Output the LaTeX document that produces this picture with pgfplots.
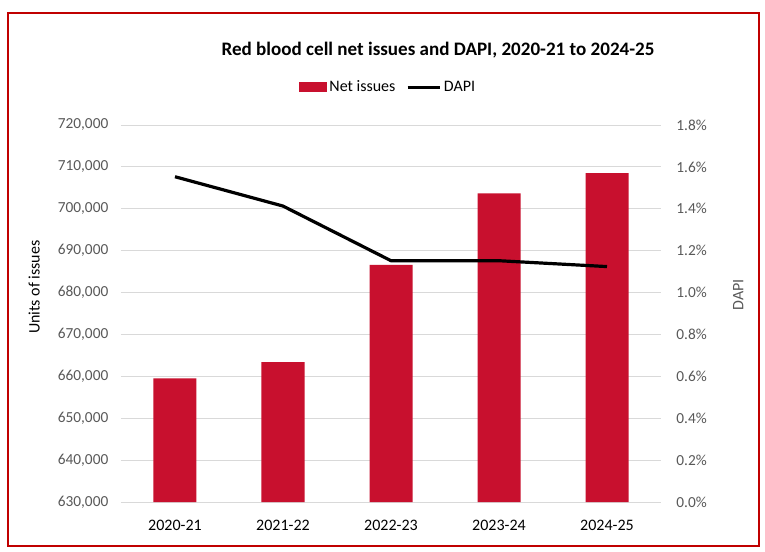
\documentclass[border=0pt]{standalone}
\usepackage{pgfplots}
\pgfplotsset{compat=1.18}
\usepackage{fontspec}
\setmainfont{Carlito}
\definecolor{barred}{HTML}{C8102E}
\definecolor{framered}{HTML}{C00000}
\definecolor{tickgray}{HTML}{595959}
\definecolor{gridgray}{HTML}{D9D9D9}
\begin{document}
\begin{tikzpicture}
\useasboundingbox (0pt,0pt) rectangle (573.75pt,413.25pt);
\fill[white] (0pt,0pt) rectangle (573.75pt,413.25pt);
\draw[framered, line width=1.5pt] (6pt,3.75pt) rectangle (569.25pt,403.5pt);
\node[font=\fontsize{14.3}{17}\selectfont\bfseries] at (328.5pt,375.75pt) {Red blood cell net issues and DAPI, 2020-21 to 2024-25};
\begin{axis}[
  at={(90.75pt,36.75pt)}, anchor=south west,
  scale only axis, width=405pt, height=282.75pt,
  xmin=-0.5, xmax=4.5, ymin=630000, ymax=720000,
  ytick={630000,640000,...,720000},
  xtick={0,1,2,3,4},
  xticklabels={2020-21,2021-22,2022-23,2023-24,2024-25},
  axis line style={draw=none},
  major tick length=0pt,
  ymajorgrids, grid style={gridgray, line width=0.75pt},
  axis y line*=left,
  y tick label style={tickgray, font=\fontsize{11.5}{13}\selectfont, xshift=-6pt},
  x tick label style={black, font=\fontsize{12}{14}\selectfont, yshift=-10pt},
  yticklabel style={/pgf/number format/.cd, fixed, 1000 sep={,}, assume math mode=true},
  /pgf/number format/assume math mode=true,
  scaled y ticks=false,
  ylabel={Units of issues},
  ylabel style={at={(rel axis cs:-0.161,0.57)}, anchor=center, rotate=0, font=\fontsize{12}{14}\selectfont, black},
  legend columns=2,
  legend style={draw=none, fill=none, at={(0.495,1.10)}, anchor=center, font=\fontsize{12}{14}\selectfont,
    /tikz/every even column/.append style={column sep=6pt}},
]
\addplot[ybar, bar width=32.25pt, fill=barred, draw=none,
  legend image code/.code={\fill[barred] (0pt,-3.75pt) rectangle (21pt,3.75pt);}]
  coordinates {(0,659500) (1,663400) (2,686600) (3,703700) (4,708500)};
\addlegendentry{Net issues}
\addlegendimage{legend image code/.code={\draw[black, line width=2.4pt] (0pt,0pt) -- (24pt,0pt);}}
\addlegendentry{DAPI}
\end{axis}
\begin{axis}[
  at={(90.75pt,36.75pt)}, anchor=south west,
  scale only axis, width=405pt, height=282.75pt,
  xmin=-0.5, xmax=4.5, ymin=0, ymax=1.8,
  ytick={0,0.2,...,1.8},
  axis x line=none,
  axis y line*=right,
  axis line style={draw=none},
  major tick length=0pt,
  y tick label style={tickgray, font=\fontsize{11.5}{13}\selectfont, xshift=8pt},
  yticklabel={\pgfmathprintnumber[fixed, fixed zerofill, precision=1, assume math mode=true]{\tick}\%},
  ylabel={DAPI},
  ylabel style={at={(rel axis cs:1.143,0.549)}, anchor=center, rotate=0, font=\fontsize{12}{14}\selectfont, tickgray},
]
\addplot[black, line width=2.4pt, line join=round] coordinates {(0,1.553) (1,1.413) (2,1.152) (3,1.152) (4,1.124)};
\end{axis}
\end{tikzpicture}
\end{document}
